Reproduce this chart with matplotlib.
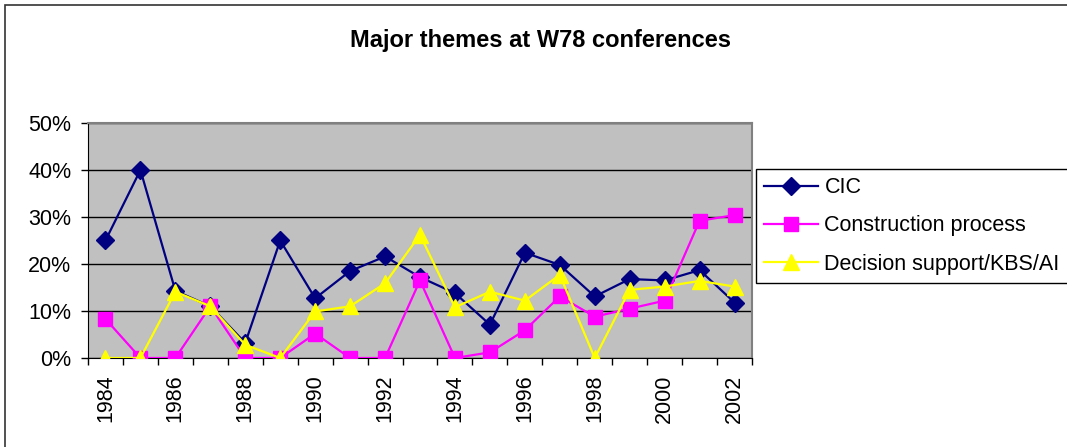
import numpy as np
import matplotlib
matplotlib.use('Agg')
import matplotlib.pyplot as plt
from matplotlib.patches import Rectangle
from matplotlib.ticker import FixedLocator, PercentFormatter

plt.rcParams['font.family'] = ['Liberation Sans', 'DejaVu Sans']

# data (percent)
years = list(range(1984, 2003))
cic = [25, 40, 14.3, 11, 3.2, 25, 12.7, 18.5, 21.6, 17.2, 13.8, 7.1, 22.4, 19.8, 13.1, 16.8, 16.5, 18.7, 11.8]
construction = [8.3, 0, 0, 11, 0, 0, 5.2, 0, 0, 16.5, 0, 1.2, 5.9, 13.1, 8.8, 10.5, 12.2, 29.2, 30.4]
decision = [0, 0, 14.1, 11, 2.8, 0, 9.9, 11, 15.9, 26.2, 10.8, 14.1, 12.2, 17.7, 0, 14.5, 15.2, 16.4, 15.2]

W, H = 1067, 447
fig = plt.figure(figsize=(W/100, H/100), dpi=100)
ax = fig.add_axes([88/W, 1-358/H, (752-88)/W, (358-123)/H])
ax.set_facecolor('#C0C0C0')

# outer chart border
fig.add_artist(Rectangle((5/W, -0.05), 1.1, 1-5/H+0.05, transform=fig.transFigure,
                         fill=False, edgecolor='#333333', linewidth=1.2))

ax.plot(years, cic, color='#000080', marker='D', markersize=9, linewidth=1.6, label='CIC', zorder=3)
ax.plot(years, construction, color='#FF00FF', marker='s', markersize=10.5, linewidth=1.6,
        label='Construction process', zorder=4)
ax.plot(years, decision, color='#FFFF00', marker='^', markersize=11, linewidth=1.6,
        label='Decision support/KBS/AI', zorder=5)

ax.set_xlim(1983.5, 2002.5)
ax.set_ylim(0, 50)
ax.yaxis.set_major_locator(FixedLocator([0, 10, 20, 30, 40, 50]))
ax.yaxis.set_major_formatter(PercentFormatter(decimals=0))
ax.grid(axis='y', color='black', linewidth=1)
ax.set_axisbelow(True)

# category boundaries as ticks, labels every other year
ax.xaxis.set_major_locator(FixedLocator(np.arange(1983.5, 2003, 1)))
ax.xaxis.set_major_formatter(plt.NullFormatter())
ax.xaxis.set_minor_locator(FixedLocator(years[::2]))
ax.set_xticklabels([str(y) for y in years[::2]], minor=True, rotation=90)
ax.tick_params(axis='x', which='major', direction='out', length=5, width=1)
ax.tick_params(axis='x', which='minor', length=0, pad=12, labelsize=15.5)
ax.tick_params(axis='y', direction='out', length=5, width=1, pad=7, labelsize=15.5)

for s in ['left', 'bottom']:
    ax.spines[s].set_color('black')
for s in ['top', 'right']:
    ax.spines[s].set_color('#808080')
    ax.spines[s].set_linewidth(1.5)

fig.text(540/W, 1-40/H, 'Major themes at W78 conferences', ha='center', va='center',
         fontsize=17, fontweight='bold')

# legend box runs past the right edge, as in the source
leg = ax.legend(loc='upper left', bbox_to_anchor=(756/W, 1-284/H, 330/W, 115/H),
                bbox_transform=fig.transFigure, mode='expand',
                fancybox=False, edgecolor='black', framealpha=1, fontsize=15.5,
                handlelength=2.5, labelspacing=0.8, borderpad=0.38, handletextpad=0.3,
                borderaxespad=0)
leg.get_frame().set_linewidth(1)

fig.savefig('out.png', dpi=100)
